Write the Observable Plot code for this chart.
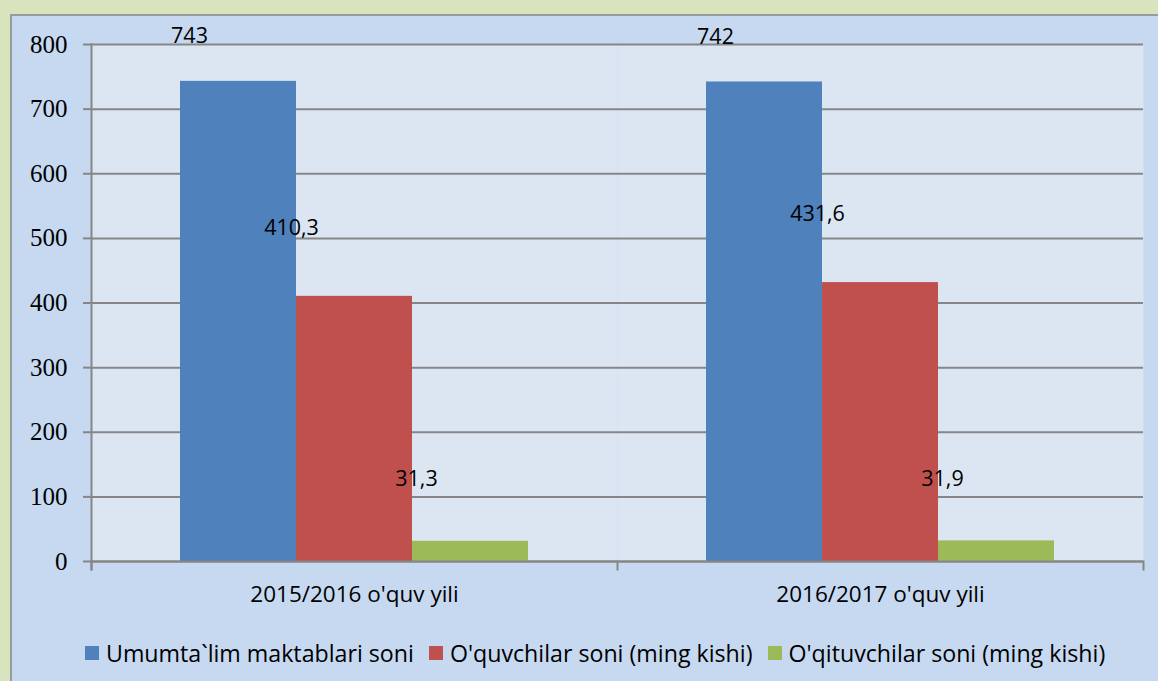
<!DOCTYPE html>
<html>
<head>
<meta charset="utf-8">
<script src="https://cdn.jsdelivr.net/npm/d3@7"></script>
<script src="https://cdn.jsdelivr.net/npm/@observablehq/plot@0.6"></script>
<style>
  html, body { margin: 0; padding: 0; }
  body { width: 1158px; height: 681px; background: #d7e4bd; position: relative; overflow: hidden; }
  #panel { position: absolute; left: 10px; top: 14px; width: 1148px; height: 667px; box-sizing: border-box;
           background: #c6d9f1; border-top: 2px solid #9a9a9a; border-left: 2px solid #9a9a9a; }
  #chart { position: absolute; left: 0; top: 0; }
  #legend { position: absolute; left: 73px; top: 624px; display: flex; align-items: center;
            font-family: "Open Sans", sans-serif; font-size: 23.2px; color: #000; line-height: 26px; white-space: nowrap; }
  .item { display: flex; align-items: center; margin-right: 15px; }
  .sw { width: 14px; height: 14px; margin-right: 7px; }
</style>
</head>
<body>
<div id="panel">
  <div id="chart"></div>
  <div id="legend"></div>
</div>
<script>
const categories = ["2015/2016 o'quv yili", "2016/2017 o'quv yili"];
const seriesNames = ["Umumta`lim maktablari soni", "O'quvchilar soni (ming kishi)", "O'qituvchilar soni (ming kishi)"];
const schools = [743, 742];
const pupils = [410.3, 431.6];
const teachers = [31.3, 31.9];
const colors = ["#4f81bd", "#c0504d", "#9bbb59"];
const yTicks = [0, 100, 200, 300, 400, 500, 600, 700, 800];

const seriesValues = [schools, pupils, teachers];
const data = [];
seriesNames.forEach((s, si) => {
  categories.forEach((c, ci) => {
    const v = seriesValues[si][ci];
    data.push({category: c, series: s, value: v, label: String(v).replace(".", ",")});
  });
});

const W = 1146, H = 600, mT = 28, mB = 55, mL = 79, mR = 15;
const plotH = H - mT - mB;
const grey = "#868686";
const labelOffsets = [[-49, -45], [-63, -68], [-54, -62]];

const chart = Plot.plot({
  width: W, height: H,
  marginTop: mT, marginBottom: mB, marginLeft: mL, marginRight: mR,
  style: {background: "transparent", overflow: "visible"},
  fx: {domain: categories, padding: 0, label: null, axis: null},
  x: {domain: seriesNames, paddingInner: 0, paddingOuter: 0.75, axis: null},
  y: {domain: [0, 800], axis: null},
  color: {domain: seriesNames, range: colors},
  marks: [
    Plot.frame({fill: "#dce6f2"}),
    Plot.gridY(yTicks, {stroke: grey, strokeOpacity: 1, strokeWidth: 2}),
    Plot.barY(data, {fx: "category", x: "series", y: "value", fill: "series", insetLeft: 0, insetRight: 0}),
    Plot.ruleY([0], {stroke: grey, strokeWidth: 2}),
    Plot.frame({facet: "super", anchor: "left", stroke: grey, strokeWidth: 2, insetBottom: -8}),
    Plot.frame({anchor: "left", stroke: grey, strokeWidth: 2, insetTop: plotH, insetBottom: -8}),
    Plot.frame({facet: "super", anchor: "right", stroke: grey, strokeWidth: 2, insetTop: plotH, insetBottom: -8}),
    Plot.axisY(yTicks, {tickSize: 8, tickPadding: 16, fontFamily: "Liberation Serif", fontSize: 25,
      fill: "black", stroke: grey, strokeWidth: 2, strokeOpacity: 1, label: null}),
    Plot.axisFx({anchor: "bottom", tickSize: 0, tickPadding: 25, fontFamily: "Open Sans", fontSize: 22.5, fill: "black", label: null}),
    ...seriesNames.map((s, si) => Plot.text(data.filter(d => d.series === s), {
      fx: "category", x: "series", y: "value", text: "label",
      dx: labelOffsets[si][0], dy: labelOffsets[si][1],
      fontFamily: "Open Sans", fontSize: 21.5, fill: "black"
    }))
  ]
});
document.getElementById("chart").appendChild(chart);

const legend = document.getElementById("legend");
seriesNames.forEach((s, i) => {
  const item = document.createElement("div");
  item.className = "item";
  const sw = document.createElement("div");
  sw.className = "sw";
  sw.style.background = colors[i];
  const t = document.createElement("span");
  t.textContent = s;
  item.appendChild(sw);
  item.appendChild(t);
  legend.appendChild(item);
});
</script>
</body>
</html>
